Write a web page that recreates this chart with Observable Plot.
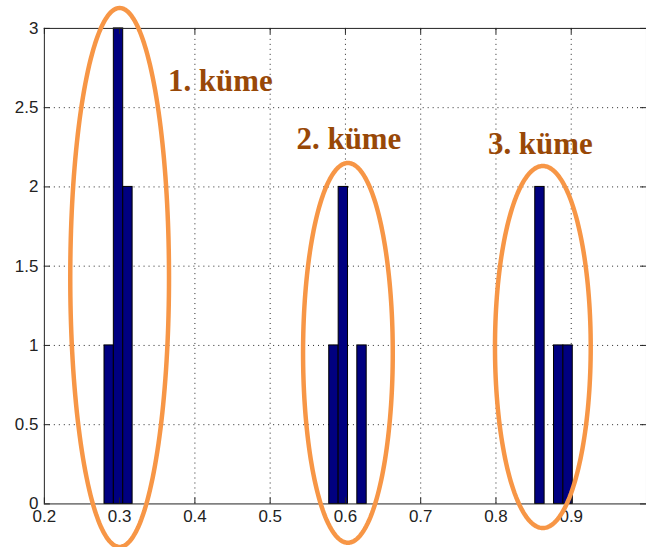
<!DOCTYPE html>
<html>
<head>
<meta charset="utf-8">
<script src="https://cdn.jsdelivr.net/npm/d3@7"></script>
<script src="https://cdn.jsdelivr.net/npm/@observablehq/plot@0.6"></script>
<style>
html, body { margin: 0; padding: 0; background: #fff; overflow: hidden; }
#chart svg { display: block; }
</style>
</head>
<body>
<div id="chart"></div>
<script>
// Histogram bins (left edges), common bin width and counts
const binLeft = [0.2799, 0.2923, 0.3048, 0.5785, 0.5910, 0.6158, 0.8522, 0.8771, 0.8896];
const binWidth = 0.01244;
const counts = [1, 3, 2, 1, 2, 1, 2, 1, 1];

// Axis ticks
const xTicks = [0.2, 0.3, 0.4, 0.5, 0.6, 0.7, 0.8, 0.9];
const yTicks = [0, 0.5, 1, 1.5, 2, 2.5, 3];
const xGrid = [0.3, 0.4, 0.5, 0.6, 0.7, 0.8, 0.9];
const yGrid = [0.5, 1, 1.5, 2, 2.5];

// Cluster annotations
const clusterNames = ["1. küme", "2. küme", "3. küme"];
const labelX = [0.3642, 0.5351, 0.7894];
const labelY = [2.604, 2.239, 2.208];
const ellipseCx = [0.300, 0.6033, 0.8623];
const ellipseCy = [1.429, 0.953, 0.990];
const ellipseRx = [0.0656, 0.0596, 0.0636];
const ellipseRy = [1.700, 1.198, 1.142];

const bars = binLeft.map((x, i) => ({x1: x, x2: x + binWidth, y: counts[i]}));
const labels = clusterNames.map((t, i) => ({t, x: labelX[i], y: labelY[i]}));
const ellipsePts = [];
clusterNames.forEach((name, i) => {
  for (let a = 0; a <= 360; a += 2) {
    const r = a * Math.PI / 180;
    ellipsePts.push({e: name, x: ellipseCx[i] + ellipseRx[i] * Math.cos(r), y: ellipseCy[i] + ellipseRy[i] * Math.sin(r)});
  }
});

const tickX = 6 / 755, tickY = 6 / 159;
const tickFont = "Liberation Sans, Arial, Helvetica, sans-serif";

const chart = Plot.plot({
  width: 648,
  height: 549,
  marginLeft: 44,
  marginRight: 0,
  marginTop: 28,
  marginBottom: 44,
  style: {background: "#fff", overflow: "visible"},
  x: {domain: [0.2, 1.0], axis: null},
  y: {domain: [0, 3], axis: null},
  marks: [
    // dotted grid
    Plot.ruleX(xGrid, {y1: 0, y2: 3, stroke: "#000", strokeWidth: 1, strokeDasharray: "1,4", strokeOpacity: 0.85}),
    Plot.ruleY(yGrid, {x1: 0.2, x2: 1.0, stroke: "#000", strokeWidth: 1, strokeDasharray: "1,4", strokeOpacity: 0.85}),
    // bars
    Plot.rectY(bars, {x1: "x1", x2: "x2", y1: 0, y2: "y", fill: "#000080", stroke: "#000", strokeWidth: 1}),
    // frame
    Plot.ruleX([0.2, 1.0], {y1: 0, y2: 3, stroke: "#222", strokeWidth: 1}),
    Plot.ruleY([0, 3], {x1: 0.2, x2: 1.0, stroke: "#222", strokeWidth: 1}),
    // inward ticks
    Plot.ruleX(xTicks, {y1: 0, y2: tickY, stroke: "#222"}),
    Plot.ruleX(xTicks, {y1: 3 - tickY, y2: 3, stroke: "#222"}),
    Plot.ruleY(yTicks, {x1: 0.2, x2: 0.2 + tickX, stroke: "#222"}),
    Plot.ruleY(yTicks, {x1: 1.0 - tickX, x2: 1.0, stroke: "#222"}),
    // tick labels
    Plot.text(xTicks, {x: d => d, y: 0, text: d => String(d), lineAnchor: "top", dy: 6, fontSize: 17, fontFamily: tickFont, fill: "#222"}),
    Plot.text(yTicks, {x: 0.2, y: d => d, text: d => String(d), textAnchor: "end", dx: -6, fontSize: 17, fontFamily: tickFont, fill: "#222"}),
    // cluster ellipses
    Plot.line(ellipsePts, {x: "x", y: "y", z: "e", stroke: "#f79646", strokeWidth: 4.5, curve: "linear"}),
    // cluster labels
    Plot.text(labels, {x: "x", y: "y", text: "t", textAnchor: "start", lineAnchor: "bottom", fontSize: 31, fontWeight: "bold", fontFamily: "Liberation Serif, Times New Roman, serif", fill: "#984807"})
  ]
});
document.getElementById("chart").appendChild(chart);
</script>
</body>
</html>
